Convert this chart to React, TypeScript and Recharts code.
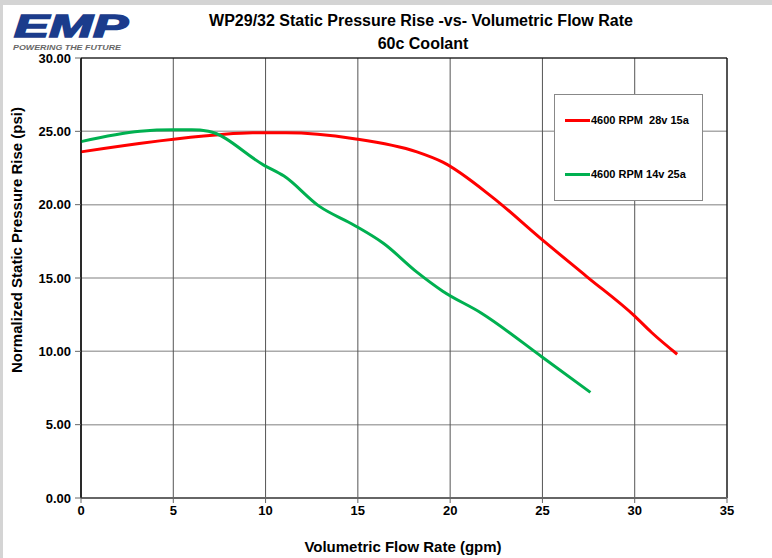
import React from "react";
import {
  LineChart, Line, XAxis, YAxis, CartesianGrid, ReferenceArea,
} from "recharts";

const FONT = "'Liberation Sans', Arial, Helvetica, sans-serif";

// 4600 RPM 28v 15a
const redFlow = [0, 7.3, 9.3, 11.1, 14.8, 18.2, 19.6, 22.3, 24.9, 27.4, 30.0, 30.9, 32.3];
const redPsi = [23.6, 24.75, 24.9, 24.9, 24.5, 23.6, 22.9, 20.5, 17.7, 15.1, 12.4, 11.3, 9.8];

// 4600 RPM 14v 25a
const greenFlow = [0, 3.2, 5.0, 6.0, 6.9, 9.9, 11.0, 12.9, 14.8, 16.4, 18.2, 19.6, 21.7, 25.0, 27.6];
const greenPsi = [24.3, 25.0, 25.1, 25.1, 25.0, 22.7, 21.95, 19.9, 18.6, 17.35, 15.4, 14.1, 12.6, 9.6, 7.2];

const xTicks = [0, 5, 10, 15, 20, 25, 30, 35];
const yTicks = [0, 5, 10, 15, 20, 25, 30];

const series = [
  { name: "4600 RPM  28v 15a", color: "#ff0000", flow: redFlow, psi: redPsi },
  { name: "4600 RPM 14v 25a", color: "#00b050", flow: greenFlow, psi: greenPsi },
];

const toRows = (flow: number[], psi: number[]) =>
  flow.map((x, i) => ({ x, y: psi[i] }));

// legend box sits inside the plot, top right
function LegendBox() {
  return (
    <div
      style={{
        position: "absolute", left: 554, top: 94, width: 147, height: 105,
        border: "1px solid #888", background: "#fff", fontFamily: FONT,
      }}
    >
      {series.map((s, i) => (
        <div
          key={s.name}
          style={{ position: "absolute", left: 10, top: i === 0 ? 19 : 73, display: "flex", alignItems: "center" }}
        >
          <span style={{ width: 25, height: 3, background: s.color, display: "inline-block" }} />
          <span style={{ fontSize: 11, fontWeight: 700, color: "#000", whiteSpace: "pre", marginLeft: 1 }}>{s.name}</span>
        </div>
      ))}
    </div>
  );
}

export default function App() {
  const tickStyle = { fontSize: 13, fontWeight: 700, fill: "#000", fontFamily: FONT };
  return (
    <div style={{ position: "absolute", left: 0, top: 0, width: 772, height: 558, background: "#fff", overflow: "hidden" }}>
      <div style={{ position: "absolute", left: 0, top: 0, width: 772, height: 5, background: "#d4d4d4" }} />
      <div style={{ position: "absolute", left: 0, top: 0, width: 3, height: 558, background: "#d4d4d4" }} />
      <div style={{ position: "absolute", left: 0, top: 0 }}>
        <LineChart width={772} height={558} margin={{ top: 58, right: 45, bottom: 30, left: 0 }}>
          <CartesianGrid vertical={false} stroke="#aaa" strokeWidth={1.5} />
          <CartesianGrid horizontal={false} stroke="#555" />
          <ReferenceArea x1={0} x2={35} y1={0} y2={30} fill="none" stroke="#000" strokeWidth={1} ifOverflow="visible" />
          <XAxis
            type="number" dataKey="x" domain={[0, 35]} ticks={xTicks} height={30}
            tick={tickStyle} tickSize={5} tickMargin={3}
            axisLine={{ stroke: "#666", strokeWidth: 2 }} tickLine={{ stroke: "#666" }}
            allowDuplicatedCategory={false}
          />
          <YAxis
            type="number" dataKey="y" domain={[0, 30]} ticks={yTicks} width={81}
            tickFormatter={(v: number) => v.toFixed(2)}
            tick={tickStyle} tickSize={6} tickMargin={4}
            axisLine={{ stroke: "#000" }} tickLine={{ stroke: "#666" }}
          />
          {series.map((s) => (
            <Line
              key={s.name} name={s.name} data={toRows(s.flow, s.psi)} dataKey="y"
              type="monotone" stroke={s.color} strokeWidth={3} dot={false}
              isAnimationActive={false}
            />
          ))}
        </LineChart>
      </div>
      <LegendBox />
      <svg width={772} height={558} style={{ position: "absolute", left: 0, top: 0, pointerEvents: "none" }}>
        <text x={14} y={36.5} fontFamily={FONT} fontSize={32} fontWeight={900} fontStyle="italic"
          fill="#1b3c8c" stroke="#1b3c8c" strokeWidth={1.5} textLength={114} lengthAdjust="spacingAndGlyphs">EMP</text>
        <text x={13} y={50} fontFamily={FONT} fontSize={7} fontWeight={700} fontStyle="italic"
          fill="#666" textLength={108} lengthAdjust="spacingAndGlyphs">POWERING THE FUTURE</text>
        <text x={421} y={26} textAnchor="middle" fontFamily={FONT} fontSize={16} fontWeight={700} fill="#000">
          WP29/32 Static Pressure Rise -vs- Volumetric Flow Rate
        </text>
        <text x={423} y={49} textAnchor="middle" fontFamily={FONT} fontSize={16} fontWeight={700} fill="#000">
          60c Coolant
        </text>
        <text x={403} y={552} textAnchor="middle" fontFamily={FONT} fontSize={15} fontWeight={700} fill="#000">
          Volumetric Flow Rate (gpm)
        </text>
        <text transform="translate(22,240) rotate(-90)" textAnchor="middle" fontFamily={FONT} fontSize={15}
          fontWeight={700} fill="#000">
          Normalized Static Pressure Rise (psi)
        </text>
      </svg>
    </div>
  );
}
